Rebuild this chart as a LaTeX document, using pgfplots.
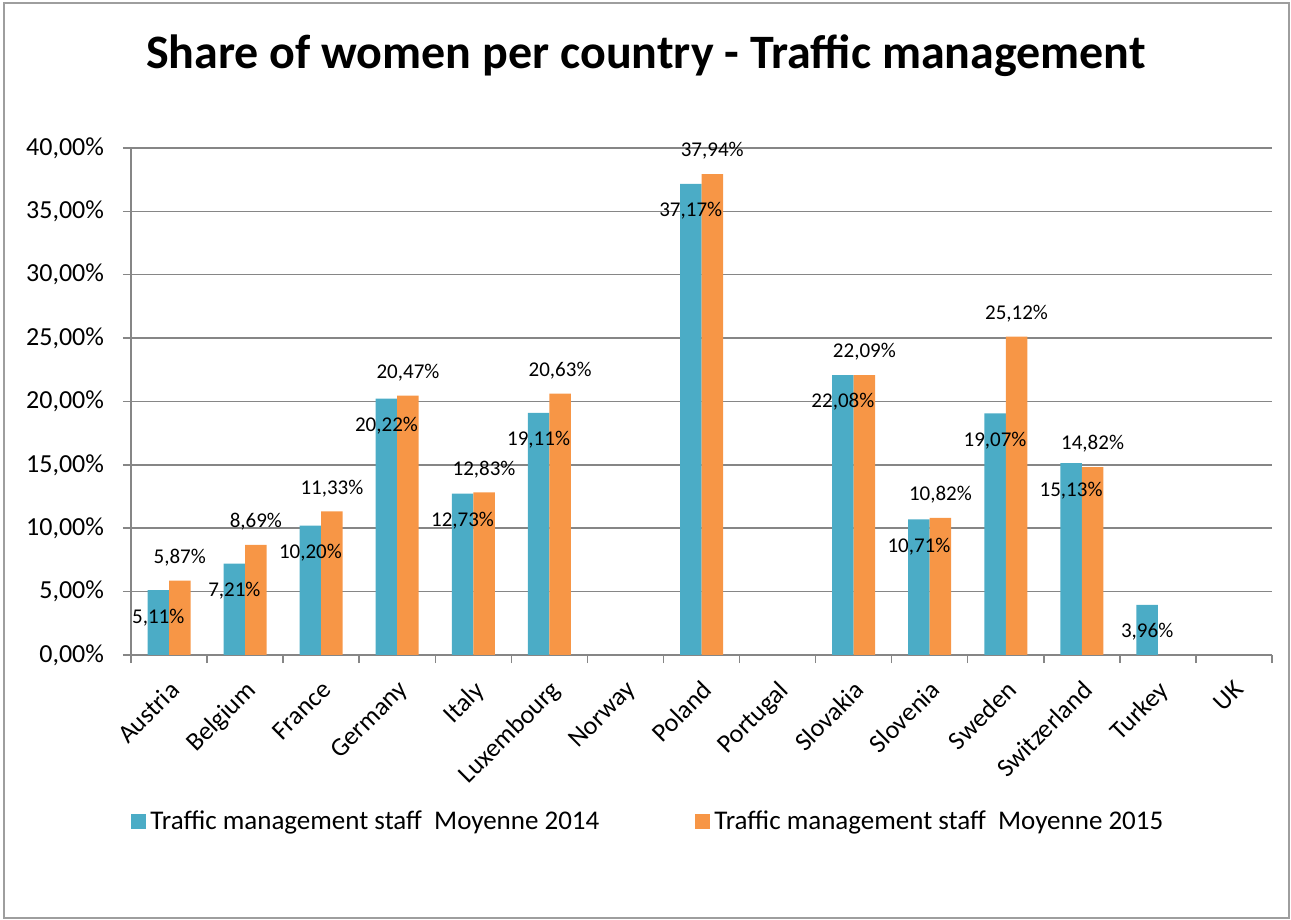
\documentclass[border=0pt]{standalone}
\usepackage{fontspec}
\setmainfont{Carlito}
\usepackage{pgfplots}
\pgfplotsset{compat=1.18}
\definecolor{c14}{HTML}{4BACC6}
\definecolor{c15}{HTML}{F79646}
\definecolor{gridgray}{HTML}{868686}

\begin{document}
\begin{tikzpicture}
\useasboundingbox (-65.5pt,-132.5pt) rectangle (580pt,327.5pt);
\draw[gridgray!80, line width=0.9pt] (-63.5pt,-131.5pt) rectangle (579pt,326pt);

\begin{axis}[
    at={(0pt,0pt)}, anchor=south west,
    scale only axis,
    width=570.5pt, height=253.5pt,
    xmin=-0.5, xmax=14.5,
    ymin=0, ymax=40,
    ybar=0pt, bar width=10.75pt,
    axis lines*=left,
    axis line style={gridgray, line width=0.75pt},
    ymajorgrids,
    grid style={gridgray, line width=0.75pt},
    tick align=outside,
    major tick length=4pt, minor tick length=4pt,
    tick style={gridgray, line width=0.75pt},
    major x tick style={draw=none},
    ytick={0,5,...,40},
    yticklabels={{0,00\%},{5,00\%},{10,00\%},{15,00\%},{20,00\%},{25,00\%},{30,00\%},{35,00\%},{40,00\%}},
    yticklabel style={font=\fontsize{13}{15}\selectfont, xshift=-6pt},
    xtick={0,...,14},
    minor xtick={-0.5,0.5,...,14.5},
    xticklabels={Austria,Belgium,France,Germany,Italy,Luxembourg,Norway,Poland,Portugal,Slovakia,Slovenia,Sweden,Switzerland,Turkey,UK},
    xticklabel style={font=\fontsize{13}{15}\selectfont, rotate=45, anchor=north east, xshift=-2.5pt, yshift=-2pt},
    nodes near coords={\pgfmathprintnumber[fixed,fixed zerofill,precision=2,use comma,assume math mode=true]{\pgfplotspointmeta}\%},
    nodes near coords style={font=\fontsize{10.5}{12}\selectfont, text=black},
    legend columns=2,
    legend style={at={(0,-0.329)}, anchor=west, draw=none, fill=none,
        inner sep=0pt,
        font=\fontsize{13.5}{16}\selectfont,
        /tikz/every even column/.append style={column sep=46pt}},
    legend image code/.code={\fill[#1, draw=none] (0pt,-3.75pt) rectangle (7.5pt,3.75pt);},
]
% 2014
\addplot[fill=c14, draw=none,
    every node near coord/.append style={anchor=center, yshift=-13.5pt}]
    coordinates {
    (0,5.11) (1,7.21) (2,10.20) (3,20.22) (4,12.73) (5,19.11)
    (7,37.17) (9,22.08) (10,10.71) (11,19.07) (12,15.13) (13,3.96)
};
\addlegendentry{Traffic management staff\ \ Moyenne 2014}
% 2015
\addplot[fill=c15, draw=none,
    every node near coord/.append style={anchor=center, yshift=11.5pt}]
    coordinates {
    (0,5.87) (1,8.69) (2,11.33) (3,20.47) (4,12.83) (5,20.63)
    (7,37.94) (9,22.09) (10,10.82) (11,25.12) (12,14.82)
};
\addlegendentry{Traffic management staff\ \ Moyenne 2015}
\end{axis}

\node[font=\fontsize{24}{29}\selectfont\bfseries] at (257.5pt,299.5pt)
    {Share of women per country - Traffic management};
\end{tikzpicture}
\end{document}
